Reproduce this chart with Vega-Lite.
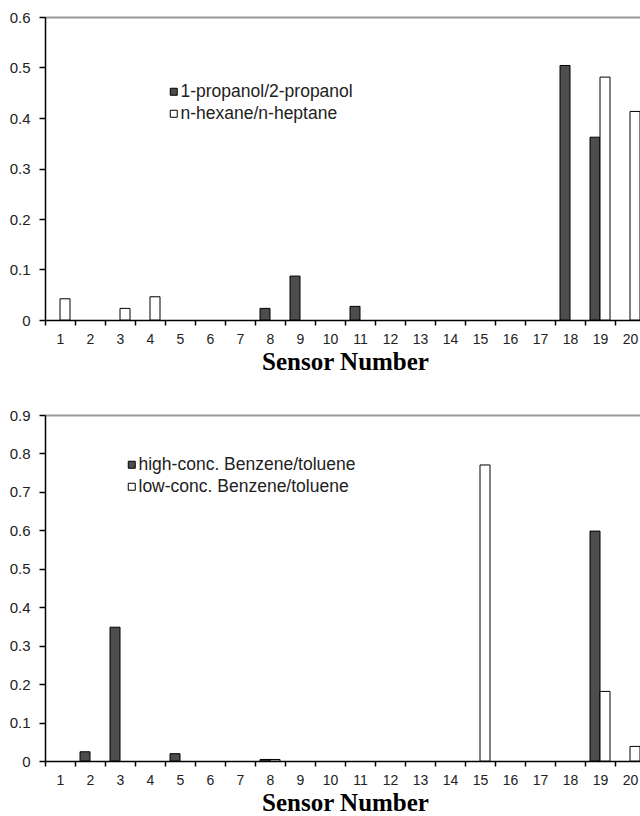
{
  "$schema": "https://vega.github.io/schema/vega-lite/v6.json",
  "background": "white",
  "padding": {"left": 9, "top": 10, "right": 0, "bottom": 0},
  "spacing": 34,
  "resolve": {
    "scale": {"fill": "independent", "xOffset": "independent", "x": "independent", "y": "independent"},
    "legend": {"fill": "independent"}
  },
  "config": {
    "font": "Liberation Sans",
    "view": {"stroke": null},
    "axis": {
      "labelFont": "Liberation Sans",
      "labelFontSize": 14,
      "labelColor": "#222",
      "domainColor": "#000",
      "domainWidth": 1.5,
      "tickColor": "#000",
      "tickWidth": 1.5,
      "tickSize": 5
    },
    "legend": {
      "orient": "none",
      "title": null,
      "symbolType": "square",
      "symbolSize": 49,
      "symbolStrokeColor": "#000",
      "symbolStrokeWidth": 1,
      "labelFont": "Liberation Sans",
      "labelFontSize": 17.5,
      "labelColor": "#222",
      "labelOffset": -2,
      "labelLimit": 400,
      "rowPadding": 3,
      "padding": 0
    }
  },
  "datasets": {
    "top": [
      {"sensor": 1, "series": "n-hexane/n-heptane", "value": 0.042},
      {"sensor": 3, "series": "n-hexane/n-heptane", "value": 0.023},
      {"sensor": 4, "series": "n-hexane/n-heptane", "value": 0.046},
      {"sensor": 8, "series": "1-propanol/2-propanol", "value": 0.023},
      {"sensor": 9, "series": "1-propanol/2-propanol", "value": 0.087},
      {"sensor": 11, "series": "1-propanol/2-propanol", "value": 0.027},
      {"sensor": 18, "series": "1-propanol/2-propanol", "value": 0.504},
      {"sensor": 19, "series": "1-propanol/2-propanol", "value": 0.362},
      {"sensor": 19, "series": "n-hexane/n-heptane", "value": 0.481},
      {"sensor": 20, "series": "n-hexane/n-heptane", "value": 0.413}
    ],
    "bottom": [
      {"sensor": 2, "series": "high-conc. Benzene/toluene", "value": 0.024},
      {"sensor": 3, "series": "high-conc. Benzene/toluene", "value": 0.348},
      {"sensor": 5, "series": "high-conc. Benzene/toluene", "value": 0.019},
      {"sensor": 8, "series": "high-conc. Benzene/toluene", "value": 0.004},
      {"sensor": 8, "series": "low-conc. Benzene/toluene", "value": 0.004},
      {"sensor": 15, "series": "low-conc. Benzene/toluene", "value": 0.77},
      {"sensor": 19, "series": "high-conc. Benzene/toluene", "value": 0.598},
      {"sensor": 19, "series": "low-conc. Benzene/toluene", "value": 0.181},
      {"sensor": 20, "series": "low-conc. Benzene/toluene", "value": 0.038}
    ]
  },
  "vconcat": [
    {
      "data": {"name": "top"},
      "width": 600,
      "height": 303,
      "mark": {"type": "bar", "stroke": "#000", "strokeWidth": 1},
      "encoding": {
        "x": {
          "field": "sensor", "type": "ordinal",
          "scale": {"domain": [1,2,3,4,5,6,7,8,9,10,11,12,13,14,15,16,17,18,19,20], "paddingInner": 0, "paddingOuter": 0},
          "axis": {
            "title": "Sensor Number", "labelAngle": 0, "tickBand": "extent",
            "titleFont": "Liberation Serif", "titleFontSize": 25, "titleFontWeight": "bold", "titleColor": "#000",
            "labelPadding": 7, "titlePadding": 3
          }
        },
        "xOffset": {
          "field": "series", "type": "nominal",
          "scale": {"domain": ["1-propanol/2-propanol", "n-hexane/n-heptane"], "paddingInner": 0, "paddingOuter": 0.5}
        },
        "y": {
          "field": "value", "type": "quantitative",
          "scale": {"domain": [0, 0.6]},
          "axis": {
            "title": null,
            "values": [0, 0.1, 0.2, 0.3, 0.4, 0.5, 0.6],
            "labelExpr": "datum.value == 0 ? '0' : format(datum.value, '.1f')",
            "labelFontSize": 15,
            "tickSize": 6, "labelPadding": 9,
            "grid": true, "gridColor": "#999", "gridWidth": 2,
            "gridOpacity": {"condition": {"test": "datum.value > 0.59", "value": 1}, "value": 0}
          }
        },
        "fill": {
          "field": "series", "type": "nominal",
          "scale": {"domain": ["1-propanol/2-propanol", "n-hexane/n-heptane"], "range": ["#4d4d4d", "#ffffff"]},
          "legend": {"legendX": 120, "legendY": 66}
        }
      }
    },
    {
      "data": {"name": "bottom"},
      "width": 600,
      "height": 346,
      "mark": {"type": "bar", "stroke": "#000", "strokeWidth": 1},
      "encoding": {
        "x": {
          "field": "sensor", "type": "ordinal",
          "scale": {"domain": [1,2,3,4,5,6,7,8,9,10,11,12,13,14,15,16,17,18,19,20], "paddingInner": 0, "paddingOuter": 0},
          "axis": {
            "title": "Sensor Number", "labelAngle": 0, "tickBand": "extent",
            "titleFont": "Liberation Serif", "titleFontSize": 25, "titleFontWeight": "bold", "titleColor": "#000",
            "labelPadding": 7, "titlePadding": 3
          }
        },
        "xOffset": {
          "field": "series", "type": "nominal",
          "scale": {"domain": ["high-conc. Benzene/toluene", "low-conc. Benzene/toluene"], "paddingInner": 0, "paddingOuter": 0.5}
        },
        "y": {
          "field": "value", "type": "quantitative",
          "scale": {"domain": [0, 0.9]},
          "axis": {
            "title": null,
            "values": [0, 0.1, 0.2, 0.3, 0.4, 0.5, 0.6, 0.7, 0.8, 0.9],
            "labelExpr": "datum.value == 0 ? '0' : format(datum.value, '.1f')",
            "labelFontSize": 15,
            "tickSize": 6, "labelPadding": 9,
            "grid": true, "gridColor": "#999", "gridWidth": 2,
            "gridOpacity": {"condition": {"test": "datum.value > 0.89", "value": 1}, "value": 0}
          }
        },
        "fill": {
          "field": "series", "type": "nominal",
          "scale": {"domain": ["high-conc. Benzene/toluene", "low-conc. Benzene/toluene"], "range": ["#4d4d4d", "#ffffff"]},
          "legend": {"legendX": 78, "legendY": 41}
        }
      }
    }
  ]
}
